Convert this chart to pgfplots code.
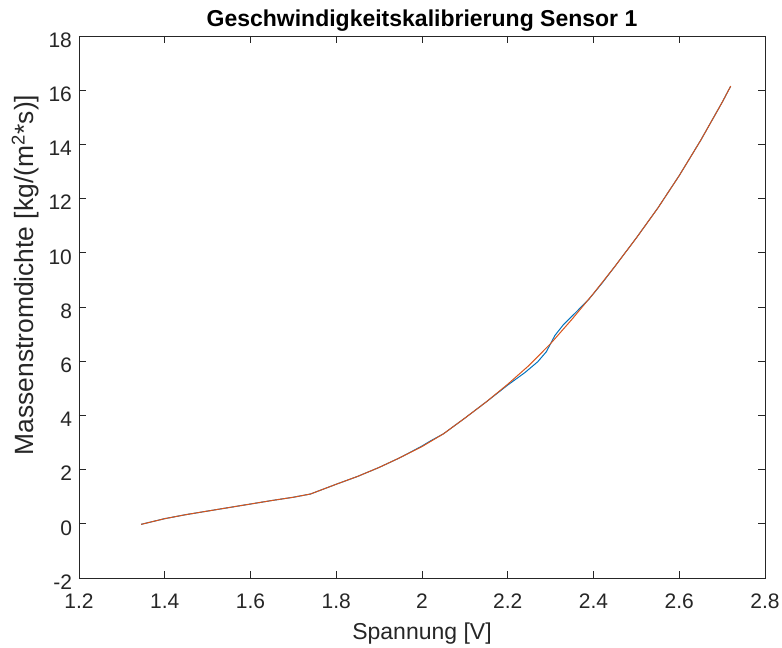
\documentclass[border=0pt]{standalone}
\usepackage{fontspec}
\setmainfont{Liberation Sans}
\usepackage{pgfplots}
\pgfplotsset{compat=1.18}

\definecolor{mblue}{RGB}{0,114,189}
\definecolor{morange}{RGB}{217,83,25}
\definecolor{axgray}{RGB}{38,38,38}

\begin{document}
\begin{tikzpicture}
\begin{axis}[
  scale only axis,
  width=343pt, height=271pt,
  xmin=1.2, xmax=2.8,
  ymin=-2, ymax=18,
  xtick={1.2,1.4,1.6,1.8,2,2.2,2.4,2.6,2.8},
  xticklabels={1.2,1.4,1.6,1.8,2,2.2,2.4,2.6,2.8},
  ytick={-2,0,2,4,6,8,10,12,14,16,18},
  yticklabels={-2,0,2,4,6,8,10,12,14,16,18},
  tick align=inside,
  major tick length=3.5pt,
  axis line style={axgray, line width=0.45pt},
  tick style={axgray, line width=0.45pt},
  tick label style={font=\fontsize{10.5}{12}\selectfont, text=axgray},
  xticklabel style={yshift=-4.5pt},
  yticklabel style={yshift=-2pt},
  label style={font=\fontsize{11.5}{13}\selectfont, text=axgray},
  ylabel style={font=\fontsize{13.2}{15}\selectfont, at={(axis description cs:-0.058,0.559)},
    anchor=south, inner sep=0pt},
  every axis title/.style={font=\bfseries\fontsize{11.5}{13}\selectfont,
    at={(axis description cs:0.5,1)}, anchor=base, yshift=4.5pt},
  title={Geschwindigkeitskalibrierung Sensor 1},
  xlabel={Spannung [V]},
  ylabel={Massenstromdichte [kg/(m\textsuperscript{2}*s)]},
]
% Messung
\addplot[mblue, line width=0.5pt] coordinates {
  (1.345,-0.02)(1.40,0.19)(1.45,0.34)(1.50,0.47)(1.55,0.60)(1.60,0.73)
  (1.65,0.86)(1.70,0.98)(1.74,1.10)(1.77,1.28)(1.80,1.46)(1.85,1.75)
  (1.90,2.08)(1.95,2.45)(2.00,2.87)(2.02,3.06)(2.05,3.32)(2.10,3.90)
  (2.15,4.50)(2.20,5.12)(2.24,5.58)(2.27,5.98)(2.29,6.35)(2.31,6.95)
  (2.33,7.35)(2.36,7.82)(2.39,8.30)(2.42,8.88)(2.45,9.50)
  (2.50,10.55)(2.55,11.65)(2.60,12.85)(2.65,14.15)(2.70,15.55)(2.72,16.15)
};
% Fit
\addplot[morange, line width=0.5pt] coordinates {
  (1.345,-0.02)(1.40,0.19)(1.45,0.34)(1.50,0.47)(1.55,0.60)(1.60,0.73)
  (1.65,0.86)(1.70,0.98)(1.74,1.10)(1.77,1.28)(1.80,1.46)(1.85,1.75)
  (1.90,2.08)(1.95,2.45)(2.00,2.85)(2.05,3.32)(2.10,3.90)(2.15,4.50)
  (2.20,5.15)(2.25,5.85)(2.30,6.65)(2.35,7.55)(2.40,8.50)(2.45,9.50)
  (2.50,10.55)(2.55,11.65)(2.60,12.85)(2.65,14.15)(2.70,15.55)(2.72,16.15)
};
\end{axis}
\pgfresetboundingbox
\path[use as bounding box] ([xshift=-39.5pt,yshift=-35pt]current axis.south west)
  rectangle ([xshift=8.5pt,yshift=18pt]current axis.north east);
\end{tikzpicture}
\end{document}
